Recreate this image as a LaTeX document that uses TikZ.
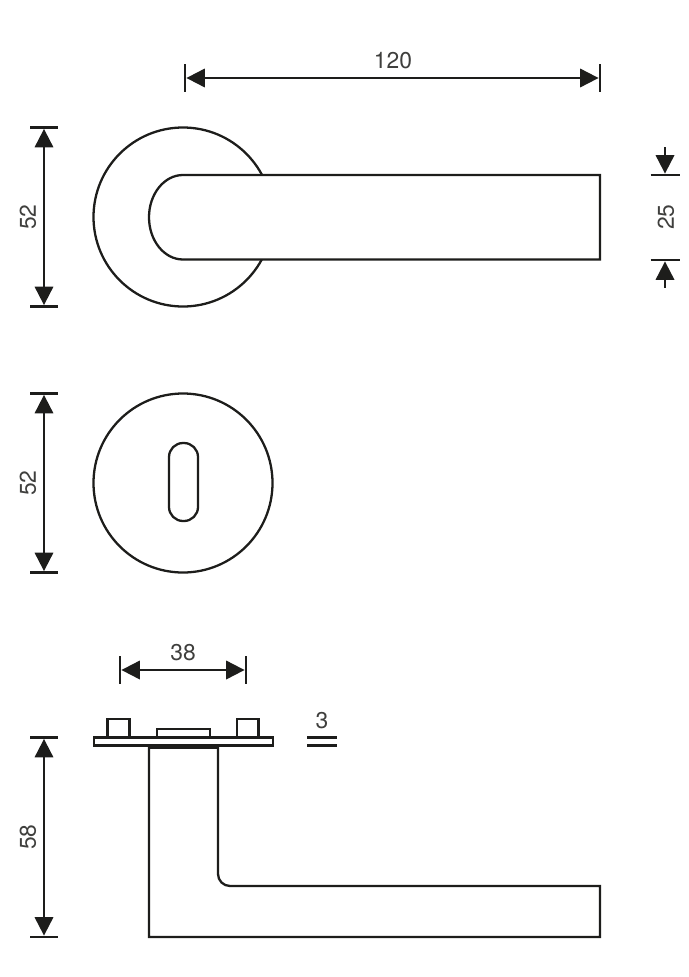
\documentclass[tikz,border=0pt]{standalone}
\usepackage{fontspec}
\setmainfont{TeX Gyre Heros}
\usetikzlibrary{arrows.meta}
\definecolor{inkblack}{HTML}{1D1D1B}
\tikzset{
	part/.style={draw=inkblack,line width=1.3pt,fill=white},
	dimline/.style={draw=inkblack,line width=1.15pt,>={Triangle[length=10.5pt,width=10.5pt]},shorten <=0.8pt,shorten >=0.8pt},
	tickline/.style={draw=inkblack,line width=1.3pt},
	dimlabel/.style={text=inkblack!85,font=\fontsize{13}{15}\selectfont,inner sep=0pt},
}
\begin{document}
\begin{tikzpicture}[x=0.02cm,y=-0.02cm]
	\useasboundingbox (0,0) rectangle (689,977);

	% top view
	\draw[part] (183,217) circle (89.5);
	\draw[part] (600,175) -- (183,175) arc[start angle=-90,end angle=-270,x radius=34,y radius=42.25] -- (600,259.5) -- cycle;

	% rose with keyhole
	\draw[part] (183,483) circle (89.5);
	\draw[part,rounded corners=14pt*0.569] (169,443) rectangle (198,521);

	% side view
	\draw[part] (107.5,719) rectangle (129.5,737.5);
	\draw[part] (237,719) rectangle (258.5,737.5);
	\draw[part] (157,729) rectangle (210,737.5);
	\draw[part] (94,737.5) rectangle (273,745.5);
	\draw[part] (149,747) -- (149,937) -- (600,937) -- (600,886) -- (230,886) arc[start angle=90,end angle=180,radius=12] -- (218,747) -- cycle;
	\draw[draw=inkblack,line width=2pt] (149,747) -- (218,747);

	% width 120
	\coordinate (handleleft) at (185,78);
	\coordinate (handleright) at (600,78);
	\draw[dimline,<->] (handleleft) -- (handleright);
	\draw[tickline] (handleleft) ++(0,-14) -- ++(0,28);
	\draw[tickline] (handleright) ++(0,-14) -- ++(0,28);
	\node[dimlabel] (label120) at (393,61) {120};

	% rose 52, top
	\coordinate (rosetop) at (44,127.5);
	\coordinate (rosebottom) at (44,306.5);
	\draw[dimline,<->] (rosetop) -- (rosebottom);
	\draw[tickline] (rosetop) ++(-14,0) -- ++(28,0);
	\draw[tickline] (rosebottom) ++(-14,0) -- ++(28,0);
	\node[dimlabel,rotate=90] (labelrose) at (28,217) {52};

	% handle 25
	\coordinate (gripstart) at (665,146);
	\coordinate (griptop) at (665,175);
	\coordinate (gripbottom) at (665,260);
	\coordinate (gripend) at (665,289);
	\draw[dimline,->] (gripstart) -- (griptop);
	\draw[dimline,->] (gripend) -- (gripbottom);
	\draw[tickline] (griptop) ++(-14.5,0) -- ++(29,0);
	\draw[tickline] (gripbottom) ++(-14.5,0) -- ++(29,0);
	\node[dimlabel,rotate=90] (labelgrip) at (666,217) {25};

	% keyhole rose 52
	\coordinate (keytop) at (44,393.5);
	\coordinate (keybottom) at (44,572.5);
	\draw[dimline,<->] (keytop) -- (keybottom);
	\draw[tickline] (keytop) ++(-14,0) -- ++(28,0);
	\draw[tickline] (keybottom) ++(-14,0) -- ++(28,0);
	\node[dimlabel,rotate=90] (labelkey) at (28,483) {52};

	% screw distance 38
	\coordinate (screwleft) at (120,670);
	\coordinate (screwright) at (246,670);
	\draw[dimline,<->] (screwleft) -- (screwright);
	\draw[tickline] (screwleft) ++(0,-14) -- ++(0,28);
	\draw[tickline] (screwright) ++(0,-14) -- ++(0,28);
	\node[dimlabel] (label38) at (183,653) {38};

	% plate 3
	\coordinate (plateupper) at (307,737.5);
	\coordinate (platelower) at (307,745.5);
	\draw[tickline] (plateupper) -- ++(30,0);
	\draw[tickline] (platelower) -- ++(30,0);
	\node[dimlabel] (label3) at (322,721) {3};

	% depth 58
	\coordinate (depthtop) at (44,737.5);
	\coordinate (depthbottom) at (44,937);
	\draw[dimline,<->] (depthtop) -- (depthbottom);
	\draw[tickline] (depthtop) ++(-14,0) -- ++(28,0);
	\draw[tickline] (depthbottom) ++(-14,0) -- ++(28,0);
	\node[dimlabel,rotate=90] (labeldepth) at (28,837) {58};
\end{tikzpicture}
\end{document}
